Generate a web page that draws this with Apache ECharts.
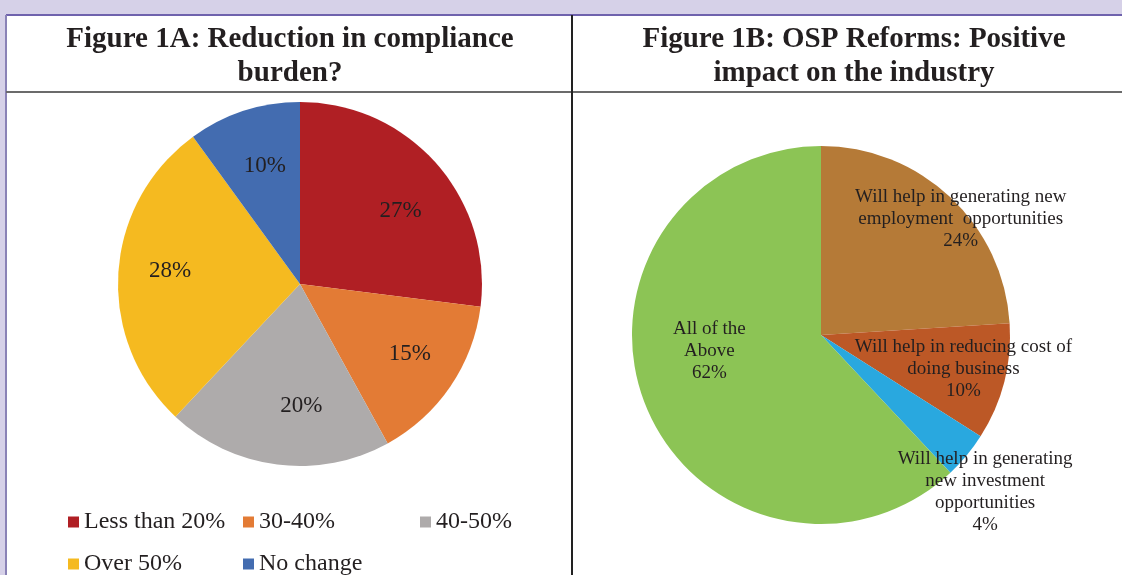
<!DOCTYPE html>
<html>
<head>
<meta charset="utf-8">
<title>Figure 1A / 1B</title>
<script src="https://cdn.jsdelivr.net/npm/echarts@6/dist/echarts.min.js"></script>
<style>
  html, body { margin: 0; padding: 0; background: #d6d1e8; }
  #chart { width: 1122px; height: 575px; }
</style>
</head>
<body>
<div id="chart"></div>
<script>
// Figure 1A data
var burdenCats = ['Less than 20%', '30-40%', '40-50%', 'Over 50%', 'No change'];
var burdenVals = [27, 15, 20, 28, 10];
var burdenColors = ['#b01f24', '#e37b35', '#aeabab', '#f5ba20', '#436cb0'];

// Figure 1B data
var impactCats = [
    'Will help in generating new\nemployment  opportunities',
    'Will help in reducing cost of\ndoing business',
    'Will help in generating\nnew investment\nopportunities',
    'All of the\nAbove'
];
var impactVals = [24, 10, 4, 62];
var impactColors = ['#b57a37', '#bc5826', '#29a8df', '#8cc455'];

var serif = "'Liberation Serif', 'Times New Roman', serif";
var chart = echarts.init(document.getElementById('chart'));

// label nudges from the default inside spot (labels sit where the report put them)
var burdenShift = [[30, -11], [32, 17], [13, 29], [-36, -7], [-6, -29]];
var impactShift = [[73, -45], [48, 10], [89, 95], [-21, -20]];

// legend grid of figure 1A: 3 columns, 2 rows
var legendCols = [63, 238, 415];
var legendRows = [505, 547];

function pieData(cats, vals, colors) {
    return cats.map(function(c, i) {
        return { name: c, value: vals[i], itemStyle: { color: colors[i] } };
    });
}

var legends = burdenCats.map(function(c, i) {
    return {
        data: [c],
        left: legendCols[i % 3], top: legendRows[Math.floor(i / 3)],
        icon: 'rect', itemWidth: 11, itemHeight: 11,
        selectedMode: false,
        textStyle: { fontFamily: serif, fontSize: 24, color: '#231f20' }
    };
});

var option = {
    backgroundColor: '#d6d1e8',
    animation: false,
    graphic: [
        // table body
        { type: 'rect', shape: { x: 6, y: 15, width: 1130, height: 570 }, style: { fill: '#fff' }, z: -10 },
        { type: 'line', shape: { x1: 6, y1: 15, x2: 1122, y2: 15 }, style: { stroke: '#6f62ad', lineWidth: 2 } },
        { type: 'line', shape: { x1: 6, y1: 15, x2: 6, y2: 575 }, style: { stroke: '#8a82b6', lineWidth: 2 } },
        { type: 'line', shape: { x1: 6, y1: 92, x2: 1122, y2: 92 }, style: { stroke: '#6b6b6b', lineWidth: 2 } },
        { type: 'line', shape: { x1: 572, y1: 15, x2: 572, y2: 575 }, style: { stroke: '#222', lineWidth: 2 } },
        // headers
        {
            type: 'text', x: 290, y: 23,
            style: {
                text: 'Figure 1A: Reduction in compliance\nburden?',
                font: 'bold 29px ' + serif, fill: '#231f20',
                align: 'center', verticalAlign: 'top', lineHeight: 34
            }
        },
        {
            type: 'text', x: 854, y: 23,
            style: {
                text: 'Figure 1B: OSP Reforms: Positive\nimpact on the industry',
                font: 'bold 29px ' + serif, fill: '#231f20',
                align: 'center', verticalAlign: 'top', lineHeight: 34
            }
        }
    ],
    legend: legends,
    series: [{
        type: 'pie',
        center: [300, 284],
        radius: 182,
        startAngle: 90,
        clockwise: true,
        data: pieData(burdenCats, burdenVals, burdenColors),
        itemStyle: { borderWidth: 0 },
        label: {
            show: true, position: 'inside',
            formatter: '{c}%',
            fontFamily: serif, fontSize: 23, color: '#231f20'
        },
        labelLayout: function(p) {
            var d = burdenShift[p.dataIndex];
            return { dx: d[0], dy: d[1] };
        },
        emphasis: { disabled: true }
    }, {
        type: 'pie',
        center: [821, 335],
        radius: 189,
        startAngle: 90,
        clockwise: true,
        data: pieData(impactCats, impactVals, impactColors),
        itemStyle: { borderWidth: 0 },
        label: {
            show: true, position: 'inside',
            formatter: '{b}\n{c}%',
            fontFamily: serif, fontSize: 19, lineHeight: 22, color: '#231f20'
        },
        labelLayout: function(p) {
            var d = impactShift[p.dataIndex];
            return { dx: d[0], dy: d[1] };
        },
        emphasis: { disabled: true }
    }]
};

chart.setOption(option);
</script>
</body>
</html>
